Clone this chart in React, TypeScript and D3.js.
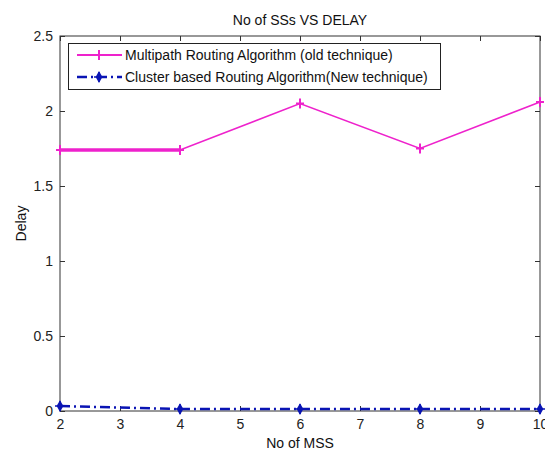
import { useEffect, useRef } from 'react';
import * as d3 from 'd3';

const mssCounts = [2, 4, 6, 8, 10];
const multipathDelay = [1.74, 1.74, 2.05, 1.75, 2.06];
const clusterDelay = [0.033, 0.013, 0.013, 0.013, 0.013];
// first segment of the old technique is drawn twice in the original (thicker)
const overlapCounts = [2, 4];
const overlapDelay = [1.74, 1.74];

const xTicks = [2, 3, 4, 5, 6, 7, 8, 9, 10];
const yTicks = [0, 0.5, 1, 1.5, 2, 2.5];

const seriesNames = [
  'Multipath Routing Algorithm (old technique)',
  'Cluster based Routing Algorithm(New technique)',
];

export default function App() {
  const svgRef = useRef<SVGSVGElement>(null);

  useEffect(() => {
    if (!svgRef.current) return;
    const svg = d3.select(svgRef.current);
    svg.selectAll('*').remove();

    const W = 545;
    const H = 450;
    const margin = { top: 36, right: 5, bottom: 39, left: 60 };
    const width = W - margin.left - margin.right;
    const height = H - margin.top - margin.bottom;
    const font = "'Liberation Sans', Arial, sans-serif";

    svg.append('rect').attr('width', W).attr('height', H).attr('fill', '#ffffff');

    const x = d3.scaleLinear().domain([2, 10]).range([0, width]);
    const y = d3.scaleLinear().domain([0, 2.5]).range([height, 0]);

    const g = svg.append('g').attr('transform', `translate(${margin.left},${margin.top})`);

    // Axes (MATLAB style: inward ticks on all four sides)
    const styleAxis = (sel: any) => {
      sel.attr('font-family', font).attr('font-size', 14).attr('color', '#222');
      sel.select('.domain').remove();
      sel.selectAll('line').attr('stroke', '#333');
    };

    g.append('g')
      .attr('transform', `translate(0,${height})`)
      .call(d3.axisBottom(x).tickValues(xTicks).tickSize(-5).tickPadding(8).tickFormat(d3.format('d')) as any)
      .call(styleAxis);

    g.append('g')
      .call(d3.axisTop(x).tickValues(xTicks).tickSize(-5).tickFormat(() => '') as any)
      .call(styleAxis);

    g.append('g')
      .call(d3.axisLeft(y).tickValues(yTicks).tickSize(-5).tickPadding(7).tickFormat(d => `${d}`) as any)
      .call(styleAxis);

    g.append('g')
      .attr('transform', `translate(${width},0)`)
      .call(d3.axisRight(y).tickValues(yTicks).tickSize(-5).tickFormat(() => '') as any)
      .call(styleAxis);

    g.append('rect')
      .attr('width', width)
      .attr('height', height)
      .attr('fill', 'none')
      .attr('stroke', '#333')
      .attr('stroke-width', 1);

    const line = d3.line<[number, number]>()
      .x(d => x(d[0]))
      .y(d => y(d[1]));

    const magenta = '#ee22cc';
    const blue = '#0a14b4';

    const multi = mssCounts.map((c, i) => [c, multipathDelay[i]] as [number, number]);
    const clus = mssCounts.map((c, i) => [c, clusterDelay[i]] as [number, number]);
    const overlap = overlapCounts.map((c, i) => [c, overlapDelay[i]] as [number, number]);

    g.append('path')
      .datum(overlap)
      .attr('fill', 'none')
      .attr('stroke', magenta)
      .attr('stroke-width', 3.5)
      .attr('d', line);

    g.append('path')
      .datum(multi)
      .attr('fill', 'none')
      .attr('stroke', magenta)
      .attr('stroke-width', 1.6)
      .attr('d', line);

    g.append('path')
      .datum(clus)
      .attr('fill', 'none')
      .attr('stroke', blue)
      .attr('stroke-width', 2.5)
      .attr('stroke-dasharray', '10,4,2,4')
      .attr('d', line);

    const drawPlus = (sel: any, cx: number, cy: number, color: string) => {
      sel.append('path')
        .attr('d', `M${cx - 4},${cy}H${cx + 4}M${cx},${cy - 5}V${cy + 5}`)
        .attr('stroke', color)
        .attr('stroke-width', 2);
    };
    const drawStar = (sel: any, cx: number, cy: number, color: string) => {
      sel.append('path')
        .attr('transform', `translate(${cx},${cy})`)
        .attr('d', d3.symbol().type(d3.symbolDiamond).size(40)())
        .attr('fill', color);
      sel.append('path')
        .attr('d', `M${cx - 5},${cy}H${cx + 5}M${cx},${cy - 5}V${cy + 5}`)
        .attr('stroke', color)
        .attr('stroke-width', 1.5);
    };

    multi.forEach(d => drawPlus(g, x(d[0]), y(d[1]), magenta));
    clus.forEach(d => drawStar(g, x(d[0]), y(d[1]), blue));

    // Legend
    const lg = svg.append('g');
    lg.append('rect')
      .attr('x', 68.5).attr('y', 43.5)
      .attr('width', 372).attr('height', 46)
      .attr('fill', '#fff')
      .attr('stroke', '#222')
      .attr('stroke-width', 1);

    const rows = [55, 77];
    lg.append('line')
      .attr('x1', 77).attr('x2', 122).attr('y1', rows[0]).attr('y2', rows[0])
      .attr('stroke', magenta).attr('stroke-width', 2);
    drawPlus(lg, 99, rows[0], magenta);
    lg.append('line')
      .attr('x1', 77).attr('x2', 122).attr('y1', rows[1]).attr('y2', rows[1])
      .attr('stroke', blue).attr('stroke-width', 2.5)
      .attr('stroke-dasharray', '10,4,2,4');
    drawStar(lg, 99, rows[1], blue);

    seriesNames.forEach((name, i) => {
      lg.append('text')
        .attr('x', 125)
        .attr('y', rows[i])
        .attr('dy', '0.35em')
        .attr('font-family', font)
        .attr('font-size', 14)
        .attr('fill', '#111')
        .text(name);
    });

    // Title and axis labels
    svg.append('text')
      .attr('x', margin.left + width / 2)
      .attr('y', 25)
      .attr('text-anchor', 'middle')
      .attr('font-family', font)
      .attr('font-size', 14)
      .attr('fill', '#111')
      .text('No of SSs VS DELAY');

    svg.append('text')
      .attr('x', margin.left + width / 2)
      .attr('y', 448)
      .attr('text-anchor', 'middle')
      .attr('font-family', font)
      .attr('font-size', 14)
      .attr('fill', '#111')
      .text('No of MSS');

    svg.append('text')
      .attr('transform', `translate(26,${margin.top + height / 2}) rotate(-90)`)
      .attr('text-anchor', 'middle')
      .attr('font-family', font)
      .attr('font-size', 14)
      .attr('fill', '#111')
      .text('Delay');
  }, []);

  return (
    <svg
      ref={svgRef}
      width={545}
      height={450}
      style={{ position: 'absolute', left: 0, top: 0, display: 'block' }}
    />
  );
}
